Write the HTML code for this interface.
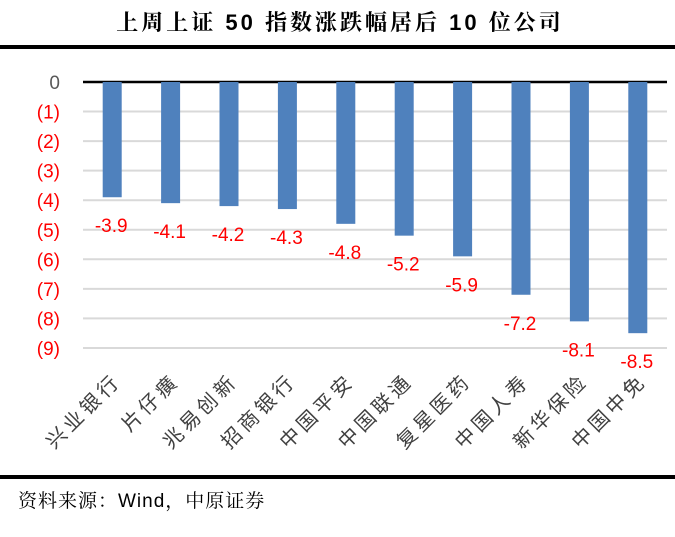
<!DOCTYPE html>
<html><head><meta charset="utf-8"><style>
body{margin:0;background:#fff;}
svg text{font-family:"Liberation Sans","Noto Sans CJK SC",sans-serif;}
</style></head><body>
<svg width="675" height="532" xmlns="http://www.w3.org/2000/svg">
<text x="340" y="30" text-anchor="middle" font-size="22" font-weight="bold" letter-spacing="3" fill="#000" style="font-family:'Liberation Sans','Noto Serif CJK SC',serif">上周上证 50 指数涨跌幅居后 10 位公司</text>
<rect x="0" y="45" width="675" height="4" fill="#000"/>
<g id="grid"></g><g id="bars"></g><g id="labels"></g>
<rect x="0" y="475" width="675" height="4" fill="#000"/>
<text x="18" y="507" font-size="19" letter-spacing="1" fill="#000" style="font-family:'Liberation Sans','Noto Serif CJK SC',serif">资料来源：Wind，中原证券</text>
</svg>
<script>
const categories=["兴业银行","片仔癀","兆易创新","招商银行","中国平安","中国联通","复星医药","中国人寿","新华保险","中国中免"];
const values=[-3.9,-4.1,-4.2,-4.3,-4.8,-5.2,-5.9,-7.2,-8.1,-8.5];
const valueLabels=["-3.9","-4.1","-4.2","-4.3","-4.8","-5.2","-5.9","-7.2","-8.1","-8.5"];
const tickValues=[0,-1,-2,-3,-4,-5,-6,-7,-8,-9];
const tickLabels=["0","(1)","(2)","(3)","(4)","(5)","(6)","(7)","(8)","(9)"];
const NS="http://www.w3.org/2000/svg";
const x0=83,x1=667,y0=82,unit=29.55;
const y=v=>y0-v*unit;
const step=(x1-x0)/categories.length;
const cx=i=>x0+step*(i+0.5);
function mk(t,a,p,txt){const e=document.createElementNS(NS,t);for(const k in a)e.setAttribute(k,a[k]);if(txt!==undefined)e.textContent=txt;p.appendChild(e);return e;}
const g=document.getElementById('grid'),b=document.getElementById('bars'),l=document.getElementById('labels');
tickValues.forEach((v,i)=>{
 if(v!==0){const ln=mk('line',{x1:x0,x2:x1,y1:y(v),y2:y(v),stroke:'#d9d9d9','stroke-width':2},g);
 
 }
 const t=mk('text',{x:60,y:y(v)+7,'text-anchor':'end','font-size':19,fill:v===0?'#595959':'#ff0000'},g,tickLabels[i]);
 
 
});
const z=mk('line',{x1:x0,x2:x1,y1:y0,y2:y0,stroke:'#000','stroke-width':2.5},g);


values.forEach((v,i)=>{
 const r=mk('rect',{x:cx(i)-9.5,y:y0,width:19,height:y(v)-y0,fill:'#4f81bd'},b);
 
 
 const t=mk('text',{x:cx(i)-1,y:y(v)+35,'text-anchor':'middle','font-size':19,fill:'#ff0000'},l,valueLabels[i]);
 
 
 const c=mk('text',{x:0,y:0,'text-anchor':'end','font-size':20,'letter-spacing':4,fill:'#404040',transform:`translate(${cx(i)+10},${382}) rotate(-45)`},l,categories[i]);
 
 
});
</script>
</body></html>
